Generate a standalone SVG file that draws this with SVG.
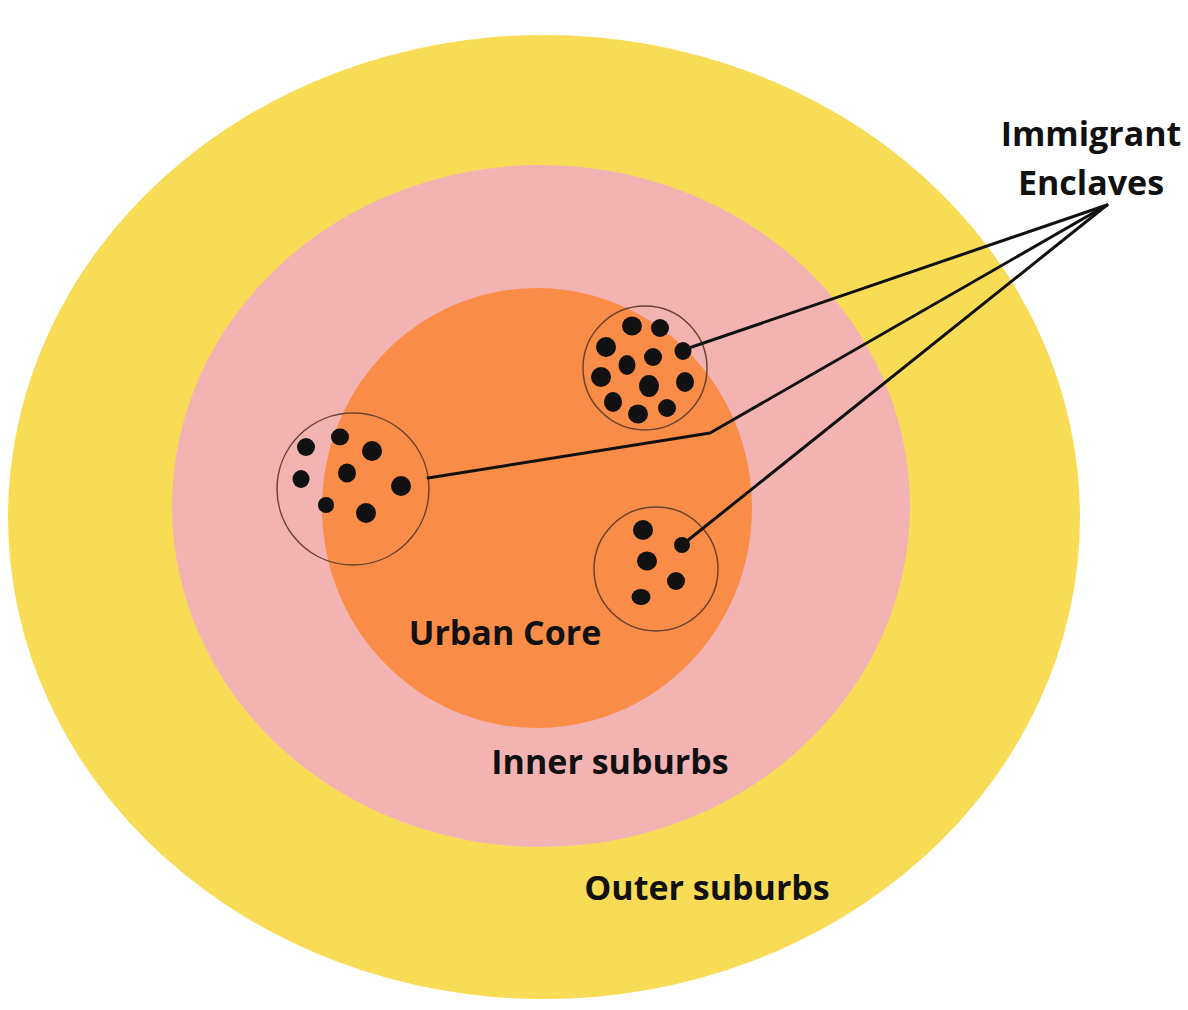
<svg xmlns="http://www.w3.org/2000/svg" width="1188" height="1010" viewBox="0 0 1188 1010">
<style>
.lbl{font-family:"Open Sans","Liberation Sans",sans-serif;font-weight:700;font-size:34px;fill:#111;}
.enc{fill:none;stroke:#6b4330;stroke-width:1.5;}
.dot{fill:#111;}
.conn{fill:none;stroke:#111;stroke-width:3;stroke-linejoin:round;stroke-linecap:round;}
</style>
<rect width="1188" height="1010" fill="#ffffff"/>
<g id="outer-suburbs">
<ellipse cx="544" cy="517" rx="536" ry="482" fill="#F9DC56"/>
<text class="lbl" x="707" y="900" text-anchor="middle">Outer suburbs</text>
</g>
<g id="inner-suburbs">
<ellipse cx="541" cy="506" rx="369" ry="341" fill="#F4B3B3"/>
<text class="lbl" x="610" y="774" text-anchor="middle">Inner suburbs</text>
</g>
<g id="urban-core">
<ellipse cx="537" cy="508" rx="215" ry="220" fill="#F98D47"/>
<text class="lbl" x="505" y="645" text-anchor="middle">Urban Core</text>
</g>
<g id="enclave-top">
<circle class="enc" cx="645" cy="368" r="62"/>
<ellipse class="dot" cx="632" cy="326" rx="10" ry="9.5"/>
<ellipse class="dot" cx="660" cy="328" rx="9" ry="9"/>
<ellipse class="dot" cx="606" cy="347" rx="10" ry="10"/>
<ellipse class="dot" cx="653" cy="357" rx="9" ry="9"/>
<ellipse class="dot" cx="683" cy="351" rx="8.5" ry="9"/>
<ellipse class="dot" cx="627" cy="365" rx="8.5" ry="10"/>
<ellipse class="dot" cx="601" cy="377" rx="10" ry="10"/>
<ellipse class="dot" cx="649" cy="386" rx="10" ry="11"/>
<ellipse class="dot" cx="685" cy="382" rx="9" ry="10"/>
<ellipse class="dot" cx="613" cy="402" rx="9" ry="10"/>
<ellipse class="dot" cx="638" cy="414" rx="10" ry="9.5"/>
<ellipse class="dot" cx="667" cy="408" rx="9" ry="9"/>
</g>
<g id="enclave-left">
<circle class="enc" cx="353" cy="489" r="76"/>
<ellipse class="dot" cx="306" cy="447" rx="9" ry="9"/>
<ellipse class="dot" cx="340" cy="437" rx="9" ry="8.5"/>
<ellipse class="dot" cx="372" cy="451" rx="10" ry="10"/>
<ellipse class="dot" cx="301" cy="479" rx="8.5" ry="9"/>
<ellipse class="dot" cx="347" cy="473" rx="9" ry="9.5"/>
<ellipse class="dot" cx="401" cy="486" rx="10" ry="10"/>
<ellipse class="dot" cx="326" cy="505" rx="8" ry="8"/>
<ellipse class="dot" cx="366" cy="513" rx="10" ry="10"/>
</g>
<g id="enclave-bottom">
<circle class="enc" cx="656" cy="569" r="62"/>
<ellipse class="dot" cx="643" cy="530" rx="10" ry="10"/>
<ellipse class="dot" cx="682" cy="545" rx="8" ry="8"/>
<ellipse class="dot" cx="647" cy="561" rx="10" ry="9.5"/>
<ellipse class="dot" cx="676" cy="581" rx="9" ry="9"/>
<ellipse class="dot" cx="641" cy="597" rx="9.5" ry="8"/>
</g>
<g id="immigrant-enclaves-label">
<text class="lbl" x="1091" y="146" text-anchor="middle">Immigrant</text>
<text class="lbl" x="1091" y="195" text-anchor="middle">Enclaves</text>
</g>
<g id="connectors">
<polyline class="conn" points="683,350 1107,205"/>
<polyline class="conn" points="428,478 710,433 1107,205"/>
<polyline class="conn" points="682,545 1107,205"/>
</g>
</svg>
